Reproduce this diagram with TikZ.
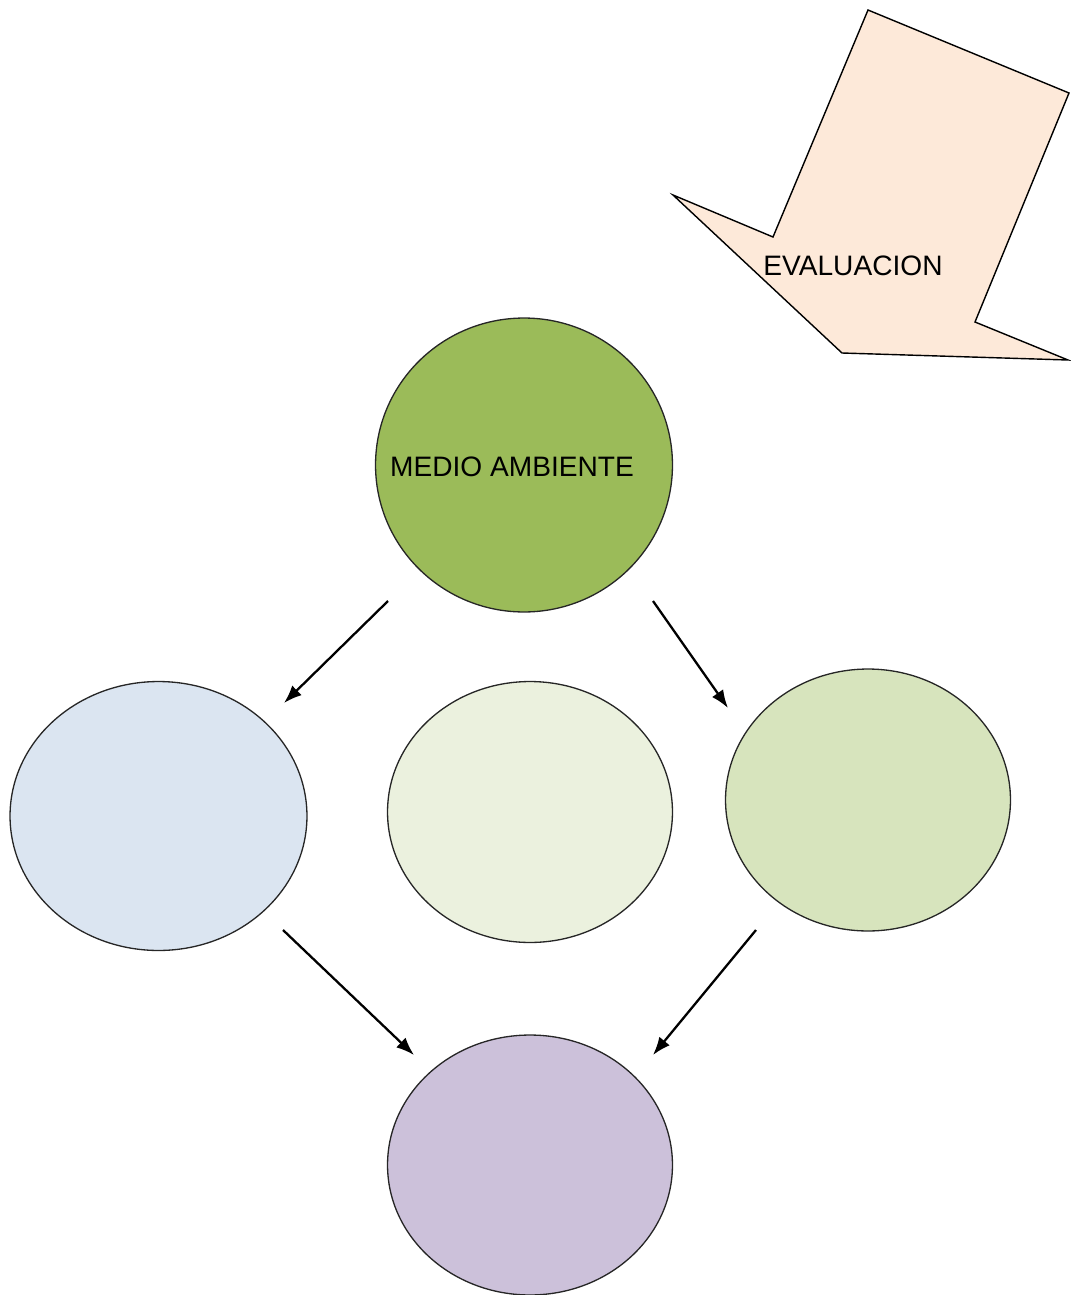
\documentclass[tikz,border=0pt]{standalone}
\usepackage{fontspec}
\setmainfont{Liberation Sans}
\usetikzlibrary{arrows.meta}
\usetikzlibrary {shapes.geometric}

\definecolor{verde}{HTML}{9BBB59}
\definecolor{azulclaro}{HTML}{DBE5F1}
\definecolor{verdeclaro}{HTML}{EBF1DE}
\definecolor{verdemedio}{HTML}{D7E4BD}
\definecolor{lila}{HTML}{CCC1DA}
\definecolor{durazno}{HTML}{FDE9D9}

\begin{document}
\begin{tikzpicture}[x=0.02cm,y=-0.02cm,
    bubble/.style={ellipse, draw=black!85, line width=0.75pt, inner sep=0pt},
    flecha/.style={line width=1.3pt, -{Latex[length=0.36cm,width=0.27cm]}}]
            % Size of the page
            \useasboundingbox (0,0) rectangle (1071,1295);

            \def\fs{\fontsize{16}{19}\selectfont} % Label font

            % Draw the big arrow
            \coordinate (E1) at (868,10);
            \coordinate (E2) at (1069,93);
            \coordinate (E3) at (975,322);
            \coordinate (E4) at (1068,360);
            \coordinate (E5) at (842,353);
            \coordinate (E6) at (673,195);
            \coordinate (E7) at (773,237);
            \draw[fill=durazno, line width=0.8pt, line join=miter] (E1) -- (E2) -- (E3) -- (E4) -- (E5) -- (E6) -- (E7) -- cycle;
            \node (eval) at (853,266) {\fs EVALUACION};

            % Draw the circles
            \node[bubble, fill=verde, minimum width=5.94cm, minimum height=5.88cm] (medio) at (524,465) {};
            \node at (512,467) {\fs MEDIO AMBIENTE};
            \node[bubble, fill=azulclaro, minimum width=5.94cm, minimum height=5.38cm] (izq) at (158.5,816) {};
            \node[bubble, fill=verdeclaro, minimum width=5.7cm, minimum height=5.22cm] (centro) at (530,812) {};
            \node[bubble, fill=verdemedio, minimum width=5.7cm, minimum height=5.24cm] (der) at (868,800) {};
            \node[bubble, fill=lila, minimum width=5.7cm, minimum height=5.2cm] (abajo) at (530,1165) {};

            % Ends of the arrows
            \coordinate (A1s) at (388,601);
            \coordinate (A1e) at (284,703);
            \coordinate (A2s) at (653,601);
            \coordinate (A2e) at (728,708);
            \coordinate (A3s) at (283,930);
            \coordinate (A3e) at (414,1055);
            \coordinate (A4s) at (756,930);
            \coordinate (A4e) at (653,1055);

            % Draw the arrows
            \draw[flecha] (A1s) -- (A1e);
            \draw[flecha] (A2s) -- (A2e);
            \draw[flecha] (A3s) -- (A3e);
            \draw[flecha] (A4s) -- (A4e);
\end{tikzpicture}
\end{document}
